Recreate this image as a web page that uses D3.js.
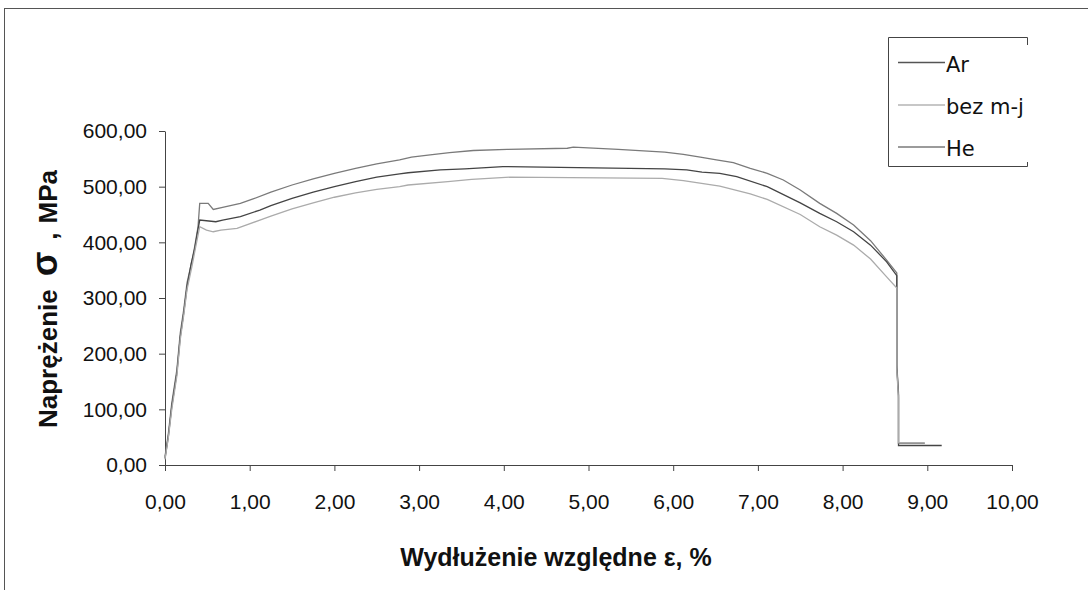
<!DOCTYPE html>
<html>
<head>
<meta charset="utf-8">
<script src="https://cdn.jsdelivr.net/npm/d3@7"></script>
<style>
  body { margin: 0; background: #fff; }
  svg { display: block; }
</style>
</head>
<body>
<div id="chart"></div>
<script>
// strain (%) / stress (MPa)
var heStrain = [0.00, 0.04, 0.08, 0.14, 0.18, 0.22, 0.26, 0.32, 0.35, 0.39, 0.41, 0.51, 0.57, 0.68, 0.89, 1.04, 1.25, 1.50, 1.75, 2.00, 2.25, 2.50, 2.77, 2.91, 3.13, 3.36, 3.64, 4.04, 4.75, 4.82, 5.35, 5.90, 6.12, 6.32, 6.51, 6.71, 6.91, 7.11, 7.30, 7.50, 7.73, 7.93, 8.13, 8.33, 8.52, 8.64, 8.64, 8.66, 8.66, 8.97];
var heStress = [15, 57, 111, 171, 237, 278, 327, 368, 392, 428, 470, 470, 459, 463, 470, 478, 490, 503, 514, 524, 533, 541, 548, 553, 557, 561, 565, 567, 569, 571, 567, 562, 558, 553, 548, 543, 533, 524, 512, 494, 470, 452, 431, 403, 368, 345, 180, 130, 39, 39];

var arStrain = [0.00, 0.04, 0.08, 0.14, 0.18, 0.22, 0.26, 0.31, 0.35, 0.38, 0.41, 0.60, 0.68, 0.89, 1.12, 1.25, 1.50, 1.75, 2.00, 2.25, 2.50, 2.77, 2.87, 3.25, 3.54, 3.99, 5.90, 6.16, 6.34, 6.55, 6.75, 7.11, 7.50, 7.73, 7.93, 8.13, 8.33, 8.52, 8.64, 8.64, 8.66, 8.66, 9.17];
var arStress = [12, 52, 105, 165, 230, 272, 320, 362, 388, 415, 440, 437, 440, 446, 458, 466, 479, 490, 500, 509, 517, 523, 525, 530, 532, 536, 532, 530, 526, 524, 518, 500, 471, 452, 437, 419, 395, 365, 340, 175, 125, 35, 35];

var bezStrain = [0.00, 0.04, 0.08, 0.14, 0.18, 0.22, 0.26, 0.32, 0.36, 0.41, 0.49, 0.57, 0.66, 0.85, 1.12, 1.25, 1.50, 1.75, 2.00, 2.25, 2.50, 2.77, 2.87, 3.34, 3.62, 4.07, 5.87, 6.12, 6.55, 6.91, 7.11, 7.50, 7.73, 7.93, 8.13, 8.33, 8.52, 8.64, 8.64, 8.66, 8.66, 8.97];
var bezStress = [10, 50, 100, 160, 225, 268, 315, 358, 390, 428, 422, 419, 422, 425, 440, 447, 460, 471, 481, 489, 495, 500, 503, 509, 513, 517, 515, 511, 501, 487, 477, 450, 428, 413, 395, 370, 338, 318, 170, 120, 40, 40];

var seriesNames = ["Ar", "bez m-j", "He"];
var xTicks = [0, 1, 2, 3, 4, 5, 6, 7, 8, 9, 10];
var yTicks = [0, 100, 200, 300, 400, 500, 600];

var series = [
    {name: "He", color: "#7a7a7a", x: heStrain, y: heStress},
    {name: "Ar", color: "#444", x: arStrain, y: arStress},
    {name: "bez m-j", color: "#ababab", x: bezStrain, y: bezStress}
];
var colorOf = {"Ar": "#555", "bez m-j": "#b4b4b4", "He": "#7a7a7a"};

var W = 1088, H = 590;
var plot = {left: 165, right: 1012, top: 131, bottom: 465};

var svg = d3.select("#chart").append("svg")
    .attr("width", W)
    .attr("height", H);

// outer frame (runs off the right and bottom edges)
svg.append("rect")
    .attr("x", 4.5).attr("y", 8.5)
    .attr("width", W + 10).attr("height", H + 10)
    .attr("fill", "none")
    .attr("stroke", "#555")
    .attr("stroke-width", 1);

var x = d3.scaleLinear().domain([0, 10]).range([plot.left, plot.right]);
var y = d3.scaleLinear().domain([0, 600]).range([plot.bottom, plot.top]);

var pl = d3.formatLocale({decimal: ",", thousands: " ", grouping: [3], currency: ["", ""]});
var fmt = pl.format(".2f");

var xAxis = svg.append("g")
    .attr("transform", "translate(0," + plot.bottom + ")")
    .call(d3.axisBottom(x).tickValues(xTicks).tickFormat(fmt).tickSize(6).tickSizeOuter(0).tickPadding(23));

var yAxis = svg.append("g")
    .attr("transform", "translate(" + plot.left + ",0)")
    .call(d3.axisLeft(y).tickValues(yTicks).tickFormat(fmt).tickSize(6).tickSizeOuter(0).tickPadding(12));

[xAxis, yAxis].forEach(function(g) {
    g.select(".domain").attr("stroke", "#444");
    g.selectAll(".tick line").attr("stroke", "#444");
    g.selectAll(".tick text")
        .attr("fill", "#111")
        .style("font-family", "'Liberation Sans', Arial, sans-serif")
        .style("font-size", "21px");
});

var line = d3.line()
    .x(function(d) { return x(d[0]); })
    .y(function(d) { return y(d[1]); });

svg.append("g").selectAll("path")
    .data(series)
    .enter().append("path")
    .attr("d", function(s) { return line(d3.zip(s.x, s.y)); })
    .attr("fill", "none")
    .attr("stroke", function(s) { return s.color; })
    .attr("stroke-width", 1.3);

// axis titles
svg.append("text")
    .attr("x", 556).attr("y", 566)
    .attr("text-anchor", "middle")
    .style("font-family", "'Liberation Sans', Arial, sans-serif")
    .style("font-size", "25px")
    .style("font-weight", "bold")
    .attr("fill", "#111")
    .text("Wydłużenie względne ε, %");

// y title: starts at the bottom, sigma set larger with wide gaps
var yt = svg.append("text")
    .attr("transform", "translate(57,428) rotate(-90)")
    .attr("text-anchor", "start")
    .style("font-family", "'Liberation Sans', Arial, sans-serif")
    .style("font-size", "26px")
    .style("font-weight", "bold")
    .attr("fill", "#111");
yt.append("tspan").text("Naprężenie");
yt.append("tspan").attr("dx", 13).style("font-size", "36px").text("σ");
yt.append("tspan").attr("dx", 12).text(",");
yt.append("tspan").attr("dx", 9).text("MPa");

// legend
var lg = {left: 888, top: 37, right: 1027, bottom: 166};
svg.append("path")
    .attr("d", "M" + (lg.right + 0.5) + "," + (lg.top + 8) +
               "V" + (lg.top + 0.5) + "H" + (lg.left + 0.5) +
               "V" + (lg.bottom + 0.5) + "H" + (lg.right + 0.5) +
               "V" + (lg.bottom - 4))
    .attr("fill", "none")
    .attr("stroke", "#444")
    .attr("stroke-width", 1);

var legendY = [62.5, 105, 147];
var item = svg.append("g").selectAll("g")
    .data(seriesNames)
    .enter().append("g")
    .attr("transform", function(d, i) { return "translate(0," + legendY[i] + ")"; });
item.append("line")
    .attr("x1", 898).attr("x2", 945)
    .attr("stroke", function(d) { return colorOf[d]; })
    .attr("stroke-width", 1.3);
item.append("text")
    .attr("x", 946).attr("y", 9)
    .style("font-family", "'DejaVu Sans', sans-serif")
    .style("font-size", "21px")
    .attr("fill", "#111")
    .text(function(d) { return d; });
</script>
</body>
</html>
